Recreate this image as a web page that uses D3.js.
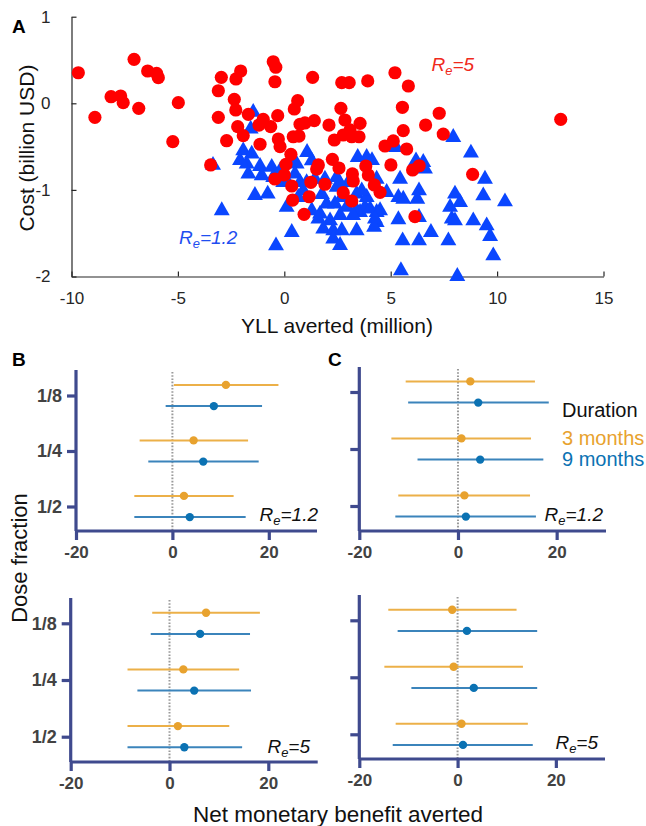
<!DOCTYPE html>
<html><head><meta charset="utf-8">
<script src="https://cdn.jsdelivr.net/npm/d3@7"></script>
<style>body{margin:0;background:#fff}svg{display:block;font-family:"Liberation Sans",Arial,Helvetica,sans-serif}</style>
</head><body><svg id="c" width="646" height="826"></svg>
<script>
// ---------- Panel A data (YLL averted, million ; Cost, billion USD) ----------
const re5YLL = [-9.68,-7.06,-6.42,-6.00,-5.92,-8.14,-7.69,-7.57,-8.90,-6.84,-4.98,-5.24,-2.96,-2.27,-2.05,-3.10,-2.35,-2.28,-3.10,-1.69,-2.19,-1.93,-2.71,-1.19,-1.14,-0.99,-0.64,-0.31,-0.52,-0.40,-0.44,1.33,2.70,3.05,3.92,0.63,0.47,1.41,0.74,0.97,-0.28,0.42,0.69,-0.20,0.31,2.66,2.85,2.10,3.56,2.35,2.77,3.17,3.51,3.09,-3.46,0.08,1.60,2.26,3.83,0.00,-0.44,1.52,2.57,3.20,3.24,1.25,1.91,0.35,1.17,0.39,2.77,3.17,0.93,5.55,7.28,6.64,5.59,7.47,5.12,4.73,5.75,5.01,6.34,6.03,3.95,4.23,4.50,6.14,5.20,5.83,8.85,12.99];
const re5Cost = [0.353,0.508,0.373,0.346,0.296,0.076,0.084,0.007,-0.162,-0.058,0.007,-0.443,0.300,0.281,0.373,0.145,0.046,-0.077,-0.162,-0.127,-0.270,-0.374,-0.432,-0.251,-0.473,-0.185,-0.270,-0.143,0.480,0.416,0.249,0.300,0.238,0.238,0.258,0.030,-0.066,-0.201,-0.242,-0.227,-0.412,-0.386,-0.378,-0.501,-0.589,-0.058,-0.193,-0.251,-0.231,-0.424,-0.366,-0.386,-0.386,-0.308,-0.712,-0.704,-0.712,-0.647,-0.724,-0.828,-0.874,-0.759,-0.747,-0.816,-0.897,-0.912,-0.935,-0.955,-1.079,-1.117,-1.032,-1.128,-1.282,-0.046,-0.115,-0.251,-0.316,-0.355,-0.435,-0.493,-0.528,-0.712,-0.721,-0.770,-0.828,-0.943,-1.028,-1.309,0.353,0.200,-0.820,-0.185];
const re12YLL = [-1.46,-1.58,-1.93,-1.53,-1.77,-3.35,-1.14,-0.59,-1.69,-1.06,-0.52,-1.38,-0.78,-2.94,-0.39,-0.20,-0.05,0.35,0.58,0.50,0.74,0.11,1.29,1.44,1.91,0.89,0.66,0.11,0.35,1.05,1.68,1.99,2.38,2.15,1.83,2.30,2.70,2.30,3.40,3.56,3.79,4.34,4.22,3.45,3.87,4.12,3.01,3.40,3.87,2.46,2.46,4.34,4.34,2.62,2.70,3.64,3.40,4.03,4.81,4.50,4.26,2.93,7.94,8.77,6.19,6.53,6.61,5.44,6.33,5.36,5.59,6.25,6.33,5.36,9.43,8.02,8.26,7.79,7.87,8.02,8.88,9.35,9.51,9.67,10.37,6.89,6.33,5.56,7.71,9.82,5.48,8.13,5.25,2.62,1.29,1.60,2.62,3.23,-2.08,1.07,1.77];
const re12Cost = [-0.077,-0.270,-0.520,-0.559,-0.674,-0.689,-0.701,-0.712,-0.790,-0.808,-0.828,-1.036,-1.021,-1.212,-1.617,-0.751,-0.886,-0.617,-0.674,-0.790,-0.886,-0.866,-0.635,-0.848,-0.848,-0.982,-1.059,-1.174,-1.463,-0.886,-1.252,-1.136,-1.136,-1.328,-1.425,-1.443,-1.443,-1.540,-1.443,-1.232,-1.174,-1.348,-1.405,-0.597,-0.597,-0.632,-0.886,-1.021,-1.059,-0.943,-0.828,-1.232,-0.848,-0.905,-1.059,-0.982,-1.212,-1.194,-1.001,-1.212,-1.309,-1.174,-0.366,-0.547,-0.635,-0.655,-0.732,-0.848,-0.982,-1.059,-1.079,-1.079,-1.290,-1.316,-0.848,-1.021,-1.117,-1.174,-1.309,-1.328,-1.328,-1.039,-1.386,-1.509,-1.109,-1.463,-1.559,-1.559,-1.559,-1.732,-1.905,-1.971,-0.482,-1.613,-1.212,-1.309,-1.267,-1.267,-0.632,-0.539,-1.026];
const scatterXTicks = [-10,-5,0,5,10,15];
const scatterYTicks = [-2,-1,0,1];

// ---------- Panels B / C data (net monetary benefit averted) ----------
const doseFractions = ['1/8','1/4','1/2'];
const durations = ['3 months','9 months'];
const benefitTicks = [-20,0,20];
// B, Re=1.2
const bRe12Mean3 = [11.1,4.4,2.4],  bRe12Low3 = [0.3,-6.8,-7.9],   bRe12High3 = [22.0,15.7,12.7];
const bRe12Mean9 = [8.6,6.4,3.6],   bRe12Low9 = [-1.4,-5.0,-7.9],  bRe12High9 = [18.6,17.9,15.2];
// C, Re=1.2
const cRe12Mean3 = [2.5,0.7,1.3],   cRe12Low3 = [-10.6,-13.5,-12.1], cRe12High3 = [15.6,14.8,14.6];
const cRe12Mean9 = [4.1,4.5,1.6],   cRe12Low9 = [-10.1,-8.2,-12.7],  cRe12High9 = [18.4,17.3,15.8];
// B, Re=5
const bRe5Mean3 = [7.4,2.8,1.7],    bRe5Low3 = [-3.5,-8.5,-8.5],   bRe5High3 = [18.3,14.1,12.1];
const bRe5Mean9 = [6.2,5.0,3.0],    bRe5Low9 = [-3.8,-6.5,-8.5],   bRe5High9 = [16.3,16.5,14.7];
// C, Re=5
const cRe5Mean3 = [-1.1,-0.8,0.8],  cRe5Low3 = [-14.1,-14.9,-12.6], cRe5High3 = [12.0,13.3,14.3];
const cRe5Mean9 = [1.9,3.3,1.1],    cRe5Low9 = [-12.2,-9.4,-13.2],  cRe5High9 = [16.2,16.2,15.3];

// ---------- drawing ----------
const svg = d3.select('#c');
svg.append('rect').attr('width',646).attr('height',826).attr('fill','#fff');
const FONT_INK = '#262626';

// Panel A
const xA = d3.scaleLinear().domain([-10,15]).range([71.5,603.5]);
const yA = d3.scaleLinear().domain([-2,1]).range([276.5,16.7]);
const gA = svg.append('g');
const xAxisA = gA.append('g').attr('transform',`translate(0,${yA(-2)})`)
  .call(d3.axisBottom(xA).tickValues(scatterXTicks).tickSizeInner(-5).tickSizeOuter(0).tickPadding(15).tickFormat(d3.format('d')));
const yAxisA = gA.append('g').attr('transform',`translate(${xA(-10)},0)`)
  .call(d3.axisLeft(yA).tickValues(scatterYTicks).tickSizeInner(-5).tickSizeOuter(0).tickPadding(21).tickFormat(d3.format('d')));
[xAxisA,yAxisA].forEach(a=>{
  a.select('.domain').attr('stroke',FONT_INK).attr('stroke-width',1.2);
  a.selectAll('.tick line').attr('stroke',FONT_INK).attr('stroke-width',1.2);
  a.selectAll('.tick text').attr('fill',FONT_INK).attr('font-size',17).attr('font-family','"Liberation Sans",Arial,sans-serif');
});
xAxisA.selectAll('.tick text').text(d=>d<0?'-'+Math.abs(d):d);
yAxisA.selectAll('.tick text').text(d=>d<0?'-'+Math.abs(d):d);

const re12 = re12YLL.map((v,i)=>({x:v,y:re12Cost[i]}));
const re5 = re5YLL.map((v,i)=>({x:v,y:re5Cost[i]}));
const triSize = 110;
const triY = Math.sqrt(triSize/(Math.sqrt(3)*3));
gA.append('g').selectAll('path').data(re12).join('path')
  .attr('d', d3.symbol(d3.symbolTriangle, triSize))
  .attr('transform', d=>`translate(${xA(d.x)},${yA(d.y)+triY/2})`)
  .attr('fill','#0a46ff');
gA.append('g').selectAll('circle').data(re5).join('circle')
  .attr('cx', d=>xA(d.x)).attr('cy', d=>yA(d.y)).attr('r',6.6)
  .attr('fill','#ff0000');

function reLabel(g, x, y, main, sub, rest, color, size, anchor){
  const t = g.append('text').attr('x',x).attr('y',y).attr('fill',color)
    .attr('font-size',size).attr('font-style','italic').attr('text-anchor',anchor||'start');
  t.append('tspan').text(main);
  t.append('tspan').attr('font-size',size*0.68).attr('dy',size*0.22).text(sub);
  t.append('tspan').attr('dy',-size*0.22).text(rest);
  return t;
}
reLabel(gA, 431.5, 71, 'R', 'e', '=5', '#f02a1c', 19);
reLabel(gA, 179, 243.5, 'R', 'e', '=1.2', '#1f4ef0', 19);

gA.append('text').attr('transform','translate(34,148) rotate(-90)').attr('text-anchor','middle')
  .attr('font-size',21).attr('fill','#111').text('Cost (billion USD)');
gA.append('text').attr('x',337).attr('y',333).attr('text-anchor','middle')
  .attr('font-size',21).attr('fill','#111').text('YLL averted (million)');
svg.append('text').attr('x',12).attr('y',33).attr('font-size',19).attr('font-weight','bold').text('A');

// Panels B and C
const AXIS_COL = '#3f4a8e';
const C3 = '#e8a22e', C3L = '#ecb048', C9 = '#0b72b3', C9L = '#3b84bb';
const panels = [
  {mean3:bRe12Mean3,low3:bRe12Low3,high3:bRe12High3,mean9:bRe12Mean9,low9:bRe12Low9,high9:bRe12High9,
   x0:76, x1:317, top:370, axisY:531, t1:395.5, t3:506.5, yLabels:true, lab:'=1.2', labX:318, labY:521},
  {mean3:cRe12Mean3,low3:cRe12Low3,high3:cRe12High3,mean9:cRe12Mean9,low9:cRe12Low9,high9:cRe12High9,
   x0:359.3, x1:606, top:367, axisY:531, t1:392, t3:506, yLabels:false, lab:'=1.2', labX:603, labY:521},
  {mean3:bRe5Mean3,low3:bRe5Low3,high3:bRe5High3,mean9:bRe5Mean9,low9:bRe5Low9,high9:bRe5High9,
   x0:70.7, x1:317.7, top:598, axisY:762, t1:623.3, t3:736.7, yLabels:true, lab:'=5', labX:310, labY:753},
  {mean3:cRe5Mean3,low3:cRe5Low3,high3:cRe5High3,mean9:cRe5Mean9,low9:cRe5Low9,high9:cRe5High9,
   x0:359.3, x1:605, top:595, axisY:759, t1:620.3, t3:734.3, yLabels:false, lab:'=5', labX:598, labY:749}
];

panels.forEach(p=>{
  const g = svg.append('g');
  const x = d3.scaleLinear().domain([-20,30]).range([p.x0,p.x1]);
  const y = d3.scalePoint().domain(doseFractions).range([p.t1,p.t3]);
  const off = d3.scalePoint().domain(durations).range([-10.6,10.6]);
  // zero reference line
  g.append('line').attr('x1',x(0)).attr('x2',x(0)).attr('y1',p.top+2).attr('y2',p.axisY)
    .attr('stroke','#9a9a9a').attr('stroke-width',2).attr('stroke-dasharray','1.6,1.6');
  const series = [
    {dur:durations[0], mean:p.mean3, low:p.low3, high:p.high3, c:C3, cl:C3L},
    {dur:durations[1], mean:p.mean9, low:p.low9, high:p.high9, c:C9, cl:C9L}
  ];
  series.forEach(s=>{
    const rows = doseFractions.map((f,i)=>({f, m:s.mean[i], lo:s.low[i], hi:s.high[i]}));
    g.append('g').selectAll('line').data(rows).join('line')
      .attr('x1',d=>x(d.lo)).attr('x2',d=>x(d.hi))
      .attr('y1',d=>y(d.f)+off(s.dur)).attr('y2',d=>y(d.f)+off(s.dur))
      .attr('stroke',s.cl).attr('stroke-width',2);
    g.append('g').selectAll('circle').data(rows).join('circle')
      .attr('cx',d=>x(d.m)).attr('cy',d=>y(d.f)+off(s.dur)).attr('r',4.2).attr('fill',s.c);
  });
  // axes
  const ax = g.append('g').attr('transform',`translate(0,${p.axisY})`)
    .call(d3.axisBottom(x).tickValues(benefitTicks).tickSizeInner(9).tickSizeOuter(0).tickPadding(6));
  ax.select('.domain').attr('stroke',AXIS_COL).attr('stroke-width',3.2);
  ax.selectAll('.tick line').attr('stroke',AXIS_COL).attr('stroke-width',3.2);
  ax.selectAll('.tick text').attr('fill','#424242').attr('font-size',17).attr('font-weight','bold')
    .attr('font-family','"Liberation Sans",Arial,sans-serif').text(d=>d<0?'-'+Math.abs(d):d);
  const ay = g.append('g').attr('transform',`translate(${p.x0},0)`)
    .call(d3.axisLeft(y).tickSizeInner(9).tickSizeOuter(0).tickPadding(5));
  ay.select('.domain').attr('d',`M0,${p.top}V${p.axisY}`).attr('stroke',AXIS_COL).attr('stroke-width',3.2);
  ay.selectAll('.tick line').attr('stroke',AXIS_COL).attr('stroke-width',3.2);
  ay.selectAll('.tick text').attr('fill','#424242').attr('font-size',18).attr('font-weight','bold')
    .attr('font-family','"Liberation Sans",Arial,sans-serif');
  if(!p.yLabels) ay.selectAll('.tick text').remove();
  ax.select('.domain').attr('d',`M${p.x0},0H${p.x1}`);
  reLabel(g, p.labX, p.labY, 'R', 'e', p.lab, '#111', 19, 'end');
});

// legend
const leg = svg.append('g').attr('font-size',20);
leg.append('text').attr('x',562).attr('y',417).attr('fill','#111').text('Duration');
leg.append('text').attr('x',562).attr('y',445).attr('fill',C3).text(durations[0]);
leg.append('text').attr('x',562).attr('y',466).attr('fill',C9).text(durations[1]);

svg.append('text').attr('x',12).attr('y',366).attr('font-size',19).attr('font-weight','bold').text('B');
svg.append('text').attr('x',328).attr('y',366).attr('font-size',19).attr('font-weight','bold').text('C');
svg.append('text').attr('transform','translate(27,558) rotate(-90)').attr('text-anchor','middle')
  .attr('font-size',22).attr('fill','#111').text('Dose fraction');
svg.append('text').attr('x',338).attr('y',822).attr('text-anchor','middle')
  .attr('font-size',22.5).attr('fill','#111').text('Net monetary benefit averted');
</script></body></html>
